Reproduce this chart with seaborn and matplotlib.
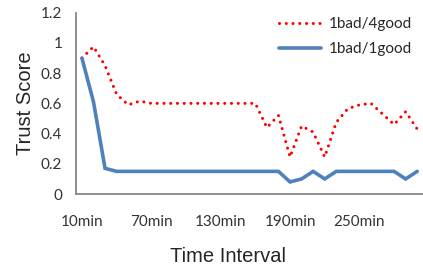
import numpy as np
import pandas as pd
import matplotlib
matplotlib.use('Agg')
import matplotlib.pyplot as plt
import seaborn as sns

# Time intervals, 10 minutes apart
time_labels = [f'{m}min' for m in range(10, 310, 10)]
tick_labels = ['10min', '70min', '130min', '190min', '250min']

# Trust scores
good4 = [0.90, 0.975, 0.85, 0.66, 0.59, 0.615, 0.60, 0.60, 0.60, 0.60,
         0.60, 0.60, 0.60, 0.60, 0.60, 0.60, 0.44, 0.52, 0.245, 0.45,
         0.41, 0.245, 0.475, 0.565, 0.59, 0.60, 0.53, 0.46, 0.545, 0.43]
good1 = [0.90, 0.61, 0.17, 0.15, 0.15, 0.15, 0.15, 0.15, 0.15, 0.15,
         0.15, 0.15, 0.15, 0.15, 0.15, 0.15, 0.15, 0.15, 0.08, 0.10,
         0.15, 0.10, 0.15, 0.15, 0.15, 0.15, 0.15, 0.15, 0.10, 0.15]

y_ticks = [0, 0.2, 0.4, 0.6, 0.8, 1.0, 1.2]

sns.set_style('white')
plt.rcParams['font.family'] = ['Lato', 'DejaVu Sans']

fig = plt.figure(figsize=(4.23, 2.68), dpi=100)
ax = fig.add_axes([0.180, 0.276, 0.820, 0.6765])

# Red dotted line first, blue solid drawn on top
sns.lineplot(x=time_labels, y=good4, ax=ax, color='#FF0000', linewidth=2.2,
             linestyle=(0, (0.01, 2.2)), dash_capstyle='round',
             label='1bad/4good', sort=False, errorbar=None)
sns.lineplot(x=time_labels, y=good1, ax=ax, color='#4F81BD', linewidth=2.6,
             solid_joinstyle='miter', label='1bad/1good', sort=False, errorbar=None)

ax.set_xlim(-0.5, 29.08)
ax.set_ylim(0, 1.2)

# Excel style category axis: marks between categories, labels every 6th
ax.set_xticks([time_labels.index(t) for t in tick_labels])
ax.set_xticklabels(tick_labels)
ax.set_xticks(np.arange(-0.5, 30, 1), minor=True)
ax.tick_params(axis='x', which='major', length=0, pad=15, labelsize=11, labelcolor='#333333')
ax.tick_params(axis='x', which='minor', length=3.5, width=1.1, color='#868686', direction='out')

ax.set_yticks(y_ticks)
ax.set_yticklabels([f'{v:g}' for v in y_ticks])
ax.tick_params(axis='y', length=4, width=1.1, color='#868686', direction='out', pad=6,
               labelsize=11, labelcolor='#333333')

for side in ['top', 'right']:
    ax.spines[side].set_visible(False)
for side in ['left', 'bottom']:
    ax.spines[side].set_color('#868686')
    ax.spines[side].set_linewidth(1.3)

ax.set_xlabel('Time Interval', fontsize=14.5, family=['Liberation Sans'])
ax.set_ylabel('Trust Score', fontsize=14.5, family=['Liberation Sans'])
ax.xaxis.set_label_coords(0.438, -0.29)
ax.yaxis.set_label_coords(-0.12, 0.5)

ax.legend(loc='upper left', bbox_to_anchor=(0.585, 0.975), frameon=False,
          fontsize=11, handlelength=2.75, handletextpad=0.5, labelspacing=0.7,
          borderpad=0, borderaxespad=0)

fig.savefig('out.png', dpi=100)
